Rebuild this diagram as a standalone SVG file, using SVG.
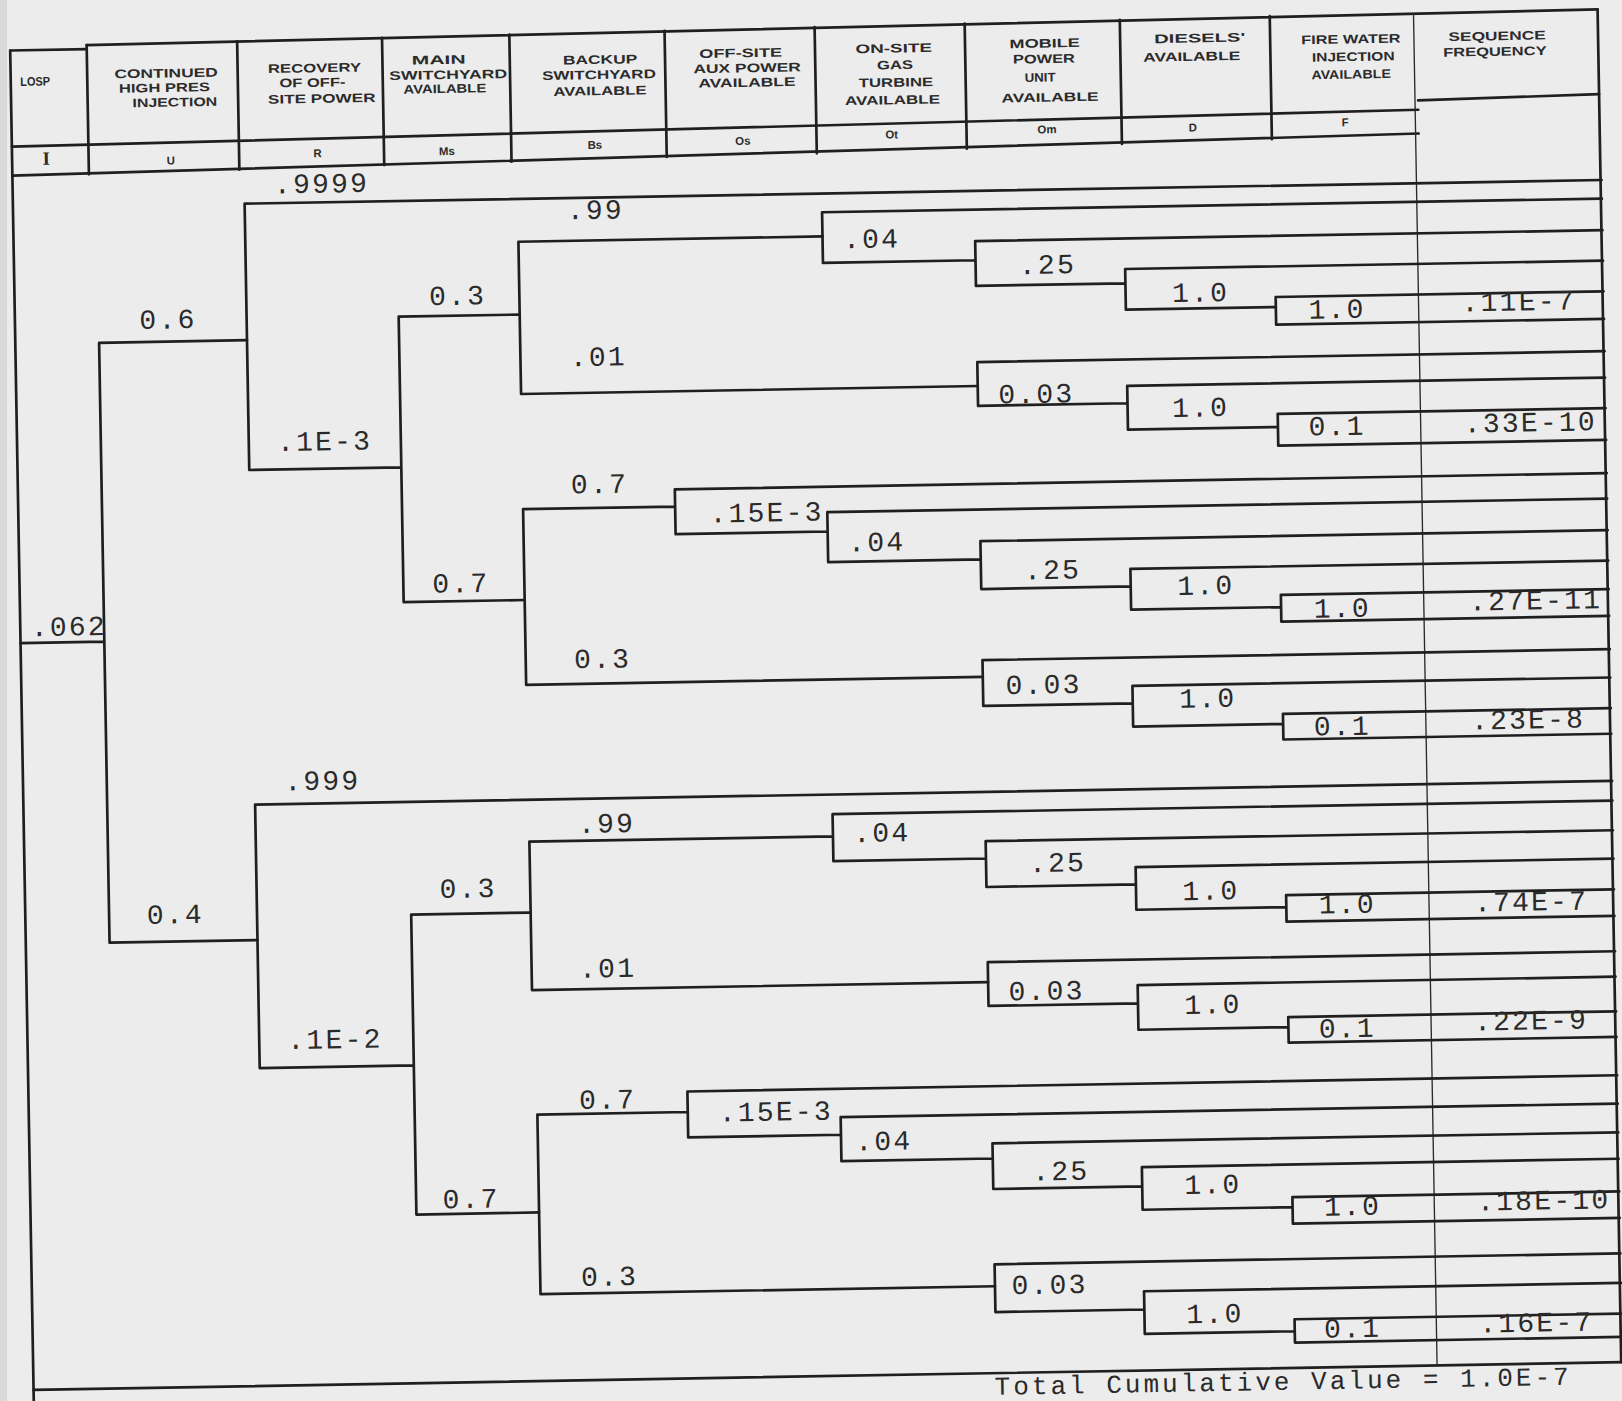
<svg xmlns="http://www.w3.org/2000/svg" width="1622" height="1401" viewBox="0 0 1622 1401">
<style>
.ln{fill:none;stroke:#1f1f1f;stroke-width:2.6;stroke-linecap:round;stroke-linejoin:round}
.thin{fill:none;stroke:#2a2a2a;stroke-width:1.3}
.h{font-family:"Liberation Sans",Arial,sans-serif;font-weight:700;font-size:12px;fill:#2b2b2b;text-anchor:middle;dominant-baseline:central}
.sym{font-family:"Liberation Sans",Arial,sans-serif;font-weight:700;font-size:11px;fill:#2b2b2b;text-anchor:middle;dominant-baseline:central}
.p{font-family:"Liberation Mono","Courier New",monospace;font-size:27px;letter-spacing:2.2px;fill:#2a2a2a}
.t{font-family:"Liberation Mono","Courier New",monospace;font-size:25px;letter-spacing:3px;fill:#2a2a2a}
</style>
<rect width="1622" height="1401" fill="#ececec"/>
<rect x="0" y="0" width="7" height="1401" fill="#d9d9d9"/>
<g transform="scale(1.03444) rotate(-1)">
<g id="header">
<g id="frame">
<path class="ln" d="M9,49 H83 M83,45 L1544,36 M9,142 L1369,130 M1369,121 L1544,118 M9,170 L1369,153"/>
<path class="ln" d="M9,49 V1400 M83,45 V170 M228.5,44 V168 M368.6,43 V166 M491.7,42 V165 M641.8,41 V163 M786.9,40 V162 M932,39 V160 M1082,38 V158 M1227,37 V156 M1544,36 V1344"/>
<path class="thin" d="M1366,37 V1344"/>
</g>
<g id="col-losp"><text class="h" x="32.6" y="79.6" textLength="29" lengthAdjust="spacingAndGlyphs" font-size="13">LOSP</text><text x="42" y="160" font-family="Liberation Serif,serif" font-weight="700" font-size="18" fill="#2b2b2b" text-anchor="middle">I</text></g>
<g id="col-u"><text class="h" x="159.3" y="73.8" textLength="100" lengthAdjust="spacingAndGlyphs">CONTINUED</text><text class="h" x="157.5" y="87.8" textLength="88" lengthAdjust="spacingAndGlyphs">HIGH PRES</text><text class="h" x="167.3" y="102" textLength="82" lengthAdjust="spacingAndGlyphs">INJECTION</text><text class="sym" x="162.3" y="157.9">U</text></g>
<g id="col-r"><text class="h" x="302.8" y="71.3" textLength="90" lengthAdjust="spacingAndGlyphs">RECOVERY</text><text class="h" x="300.6" y="85.3" textLength="64" lengthAdjust="spacingAndGlyphs">OF OFF-</text><text class="h" x="309.3" y="101" textLength="104" lengthAdjust="spacingAndGlyphs">SITE POWER</text><text class="sym" x="304.4" y="153.4">R</text></g>
<g id="col-ms"><text class="h" x="423" y="65.4" textLength="52" lengthAdjust="spacingAndGlyphs">MAIN</text><text class="h" x="432" y="80.1" textLength="114" lengthAdjust="spacingAndGlyphs">SWITCHYARD</text><text class="h" x="428.5" y="93.5" textLength="80" lengthAdjust="spacingAndGlyphs">AVAILABLE</text><text class="sym" x="429.4" y="153.6">Ms</text></g>
<g id="col-bs"><text class="h" x="579" y="68" textLength="72" lengthAdjust="spacingAndGlyphs">BACKUP</text><text class="h" x="577.7" y="82.6" textLength="110" lengthAdjust="spacingAndGlyphs">SWITCHYARD</text><text class="h" x="578.4" y="98.2" textLength="90" lengthAdjust="spacingAndGlyphs">AVAILABLE</text><text class="sym" x="572.5" y="150">Bs</text></g>
<g id="col-os"><text class="h" x="715" y="64" textLength="80" lengthAdjust="spacingAndGlyphs">OFF-SITE</text><text class="h" x="721" y="78.6" textLength="104" lengthAdjust="spacingAndGlyphs">AUX POWER</text><text class="h" x="720.6" y="92.6" textLength="94" lengthAdjust="spacingAndGlyphs">AVAILABLE</text><text class="sym" x="715.6" y="148.6">Os</text></g>
<g id="col-ot"><text class="h" x="863" y="62" textLength="74" lengthAdjust="spacingAndGlyphs">ON-SITE</text><text class="h" x="864" y="78" textLength="35" lengthAdjust="spacingAndGlyphs">GAS</text><text class="h" x="864.6" y="95" textLength="72" lengthAdjust="spacingAndGlyphs">TURBINE</text><text class="h" x="861" y="112" textLength="92" lengthAdjust="spacingAndGlyphs">AVAILABLE</text><text class="sym" x="859.7" y="145">Ot</text></g>
<g id="col-om"><text class="h" x="1009" y="59.7" textLength="68" lengthAdjust="spacingAndGlyphs">MOBILE</text><text class="h" x="1008" y="74.7" textLength="60" lengthAdjust="spacingAndGlyphs">POWER</text><text class="h" x="1004" y="92.6" textLength="30" lengthAdjust="spacingAndGlyphs">UNIT</text><text class="h" x="1013.3" y="112" textLength="94" lengthAdjust="spacingAndGlyphs">AVAILABLE</text><text class="sym" x="1009.8" y="142.7">Om</text></g>
<g id="col-d"><text class="h" x="1159" y="57.3" textLength="88" lengthAdjust="spacingAndGlyphs">DIESELS'</text><text class="h" x="1151" y="75" textLength="94" lengthAdjust="spacingAndGlyphs">AVAILABLE</text><text class="sym" x="1150.8" y="143.2">D</text></g>
<g id="col-f"><text class="h" x="1305" y="60.9" textLength="96" lengthAdjust="spacingAndGlyphs">FIRE WATER</text><text class="h" x="1307" y="77.9" textLength="80" lengthAdjust="spacingAndGlyphs">INJECTION</text><text class="h" x="1304.7" y="94.9" textLength="77" lengthAdjust="spacingAndGlyphs">AVAILABLE</text><text class="sym" x="1298" y="140.8">F</text></g>
<g id="col-seq"><text class="h" x="1446.4" y="60.3" textLength="94" lengthAdjust="spacingAndGlyphs">SEQUENCE</text><text class="h" x="1444" y="75.3" textLength="100" lengthAdjust="spacingAndGlyphs">FREQUENCY</text></g>
</g>
<g id="connectors">
<path class="ln" d="M9,622 H90 M90,333 V913 M90,333 H233 M90,913 H233"/>
<path class="ln" d="M233,201 V458.5 M233,201 H1545 M233,458.5 H380 M380,312.8 V588.8 M380,312.8 H497 M380,588.8 H497"/>
<path class="ln" d="M497,242.4 V389.6 M497,242.4 H791 M497,389.6 H938.5"/>
<path class="ln" d="M791,219 V268 M791,219 H1545 M791,268 H938.5 M938.5,249.5 V292.8 M938.5,249.5 H1545 M938.5,292.8 H1083 M1083,279 V318.3 M1083,279 H1545 M1083,318.3 H1228 M1228,308.6 V335.3 M1228,308.6 H1545 M1228,335.3 H1545"/>
<path class="ln" d="M938.5,366.5 V408.8 M938.5,366.5 H1545 M938.5,408.8 H1083 M1083,392 V434.3 M1083,392 H1545 M1083,434.3 H1228 M1228,421.6 V452.3 M1228,421.6 H1545 M1228,452.3 H1545"/>
<path class="ln" d="M497,501 V670.8 M497,501 H644 M497,670.8 H938.5 M644,484.4 V527.7 M644,484.4 H1545 M644,527.7 H791 M791,509 V557.3 M791,509 H1545 M791,557.3 H938.5 M938.5,539.6 V585.9 M938.5,539.6 H1545 M938.5,585.9 H1083 M1083,569 V608.4 M1083,569 H1545 M1083,608.4 H1228 M1228,596.6 V622.4 M1228,596.6 H1545 M1228,622.4 H1545"/>
<path class="ln" d="M938.5,654.6 V698.9 M938.5,654.6 H1545 M938.5,698.9 H1083 M1083,682 V721.4 M1083,682 H1545 M1083,721.4 H1228 M1228,711.7 V736.4 M1228,711.7 H1545 M1228,736.4 H1545"/>
<path class="ln" d="M233,782 V1036.7 M233,782 H1545 M233,1036.7 H382 M382,891 V1181 M382,891 H497.5 M382,1181 H500.6"/>
<path class="ln" d="M497.5,822.5 V965.9 M497.5,822.5 H791 M497.5,965.9 H938.5 M791,801 V846.4 M791,801 H1545 M791,846.4 H938.5 M938.5,829.7 V874 M938.5,829.7 H1545 M938.5,874 H1083 M1083,857.2 V898.5 M1083,857.2 H1545 M1083,898.5 H1228 M1228,886.8 V912.5 M1228,886.8 H1545 M1228,912.5 H1545"/>
<path class="ln" d="M938.5,946.7 V989 M938.5,946.7 H1545 M938.5,989 H1083 M1083,971.3 V1014.5 M1083,971.3 H1545 M1083,1014.5 H1228 M1228,1004.8 V1029.5 M1228,1004.8 H1545 M1228,1029.5 H1545"/>
<path class="ln" d="M500.6,1086.4 V1260 M500.6,1086.4 H646 M500.6,1260 H940 M646,1066.6 V1111 M646,1066.6 H1545 M646,1111 H793.7 M793.7,1094 V1136.5 M793.7,1094 H1545 M793.7,1136.5 H940 M940,1121.8 V1166 M940,1121.8 H1545 M940,1166 H1084 M1084,1147.3 V1188.6 M1084,1147.3 H1545 M1084,1188.6 H1229 M1229,1178.9 V1204.5 M1229,1178.9 H1545 M1229,1204.5 H1545"/>
<path class="ln" d="M940,1238.8 V1285 M940,1238.8 H1545 M940,1285 H1084 M1084,1267.4 V1308.6 M1084,1267.4 H1545 M1084,1308.6 H1229 M1229,1297 V1319.5 M1229,1297 H1545 M1229,1319.5 H1545"/>
<path class="ln" d="M9,1344 H1545"/>
</g>
<g id="branch-labels">
<text class="p" x="19.2" y="615.5">.062</text>
<text class="p" x="129.4" y="320.4">0.6</text>
<text class="p" x="126.4" y="895.5">0.4</text>
<text class="p" x="261.7" y="191.6">.9999</text>
<text class="p" x="260.4" y="440.7">.1E-3</text>
<text class="p" x="409.8" y="302.3">0.3</text>
<text class="p" x="408" y="580.3">0.7</text>
<text class="p" x="544.3" y="221.6">.99</text>
<text class="p" x="544.8" y="363.6">.01</text>
<text class="p" x="810.8" y="254.3">.04</text>
<text class="p" x="980.4" y="282.2">.25</text>
<text class="p" x="1127.9" y="311.8">1.0</text>
<text class="p" x="1259.6" y="330.1">1.0</text>
<text class="p" x="958.2" y="406.9">0.03</text>
<text class="p" x="1126" y="422.8">1.0</text>
<text class="p" x="1257.6" y="443.1">0.1</text>
<text class="p" x="543.7" y="486.7">0.7</text>
<text class="p" x="543.7" y="655.7">0.3</text>
<text class="p" x="677.2" y="517">.15E-3</text>
<text class="p" x="810.7" y="547.4">.04</text>
<text class="p" x="980.2" y="577.3">.25</text>
<text class="p" x="1128" y="594.9">1.0</text>
<text class="p" x="1259.6" y="619.2">1.0</text>
<text class="p" x="960.3" y="688">0.03</text>
<text class="p" x="1128" y="704">1.0</text>
<text class="p" x="1257.6" y="733.2">0.1</text>
<text class="p" x="261.6" y="768.8">.999</text>
<text class="p" x="260.3" y="1018.9">.1E-2</text>
<text class="p" x="409.8" y="875.4">0.3</text>
<text class="p" x="407.6" y="1175.5">0.7</text>
<text class="p" x="544.9" y="814.8">.99</text>
<text class="p" x="543.5" y="954.8">.01</text>
<text class="p" x="810.8" y="828.4">.04</text>
<text class="p" x="980.2" y="860.4">.25</text>
<text class="p" x="1127.8" y="890">1.0</text>
<text class="p" x="1259.5" y="905.3">1.0</text>
<text class="p" x="958.1" y="984">0.03</text>
<text class="p" x="1127.9" y="1000">1.0</text>
<text class="p" x="1257.4" y="1025.3">0.1</text>
<text class="p" x="541.2" y="1081.8">0.7</text>
<text class="p" x="540.2" y="1252.8">0.3</text>
<text class="p" x="676" y="1096.2">.15E-3</text>
<text class="p" x="807.5" y="1126.5">.04</text>
<text class="p" x="978" y="1158.5">.25</text>
<text class="p" x="1124.8" y="1174">1.0</text>
<text class="p" x="1259.4" y="1197.4">1.0</text>
<text class="p" x="956.1" y="1268.1">0.03</text>
<text class="p" x="1124.6" y="1299">1.0</text>
<text class="p" x="1257.4" y="1315.4">0.1</text>
</g>
<g id="sequence-frequencies">
<text class="p" x="1407.7" y="325.7">.11E-7</text>
<text class="p" x="1407.7" y="442.8">.33E-10</text>
<text class="p" x="1409.7" y="614.9">.27E-11</text>
<text class="p" x="1409.7" y="729.9">.23E-8</text>
<text class="p" x="1409.6" y="906">.74E-7</text>
<text class="p" x="1407.6" y="1020.9">.22E-9</text>
<text class="p" x="1407.5" y="1195">.18E-10</text>
<text class="p" x="1407.5" y="1313">.16E-7</text>
</g>
<g id="total"><text class="t" x="938" y="1365">Total Cumulative Value = 1.0E-7</text></g>
</g>
</svg>
